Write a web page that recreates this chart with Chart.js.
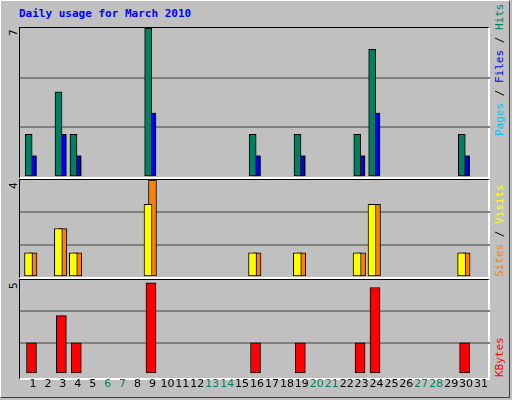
<!DOCTYPE html>
<html><head><meta charset="utf-8">
<script src="https://cdn.jsdelivr.net/npm/chart.js@4"></script>
<style>
body{margin:0;width:512px;height:400px;overflow:hidden;background:#c0c0c0;font-family:"DejaVu Sans Mono",monospace;}
#frame{position:absolute;left:0;top:0;width:510px;height:398px;border-top:1px solid #fff;border-left:1px solid #fff;border-right:1px solid #404040;border-bottom:1px solid #404040;box-sizing:border-box;}
.pan{position:absolute;left:19px;width:471px;box-sizing:border-box;border-top:1px solid #000;border-left:1px solid #000;border-right:2px solid #fff;border-bottom:2px solid #fff;}
canvas{position:absolute;left:0;}
.t{position:absolute;font-size:11px;}
.rot{position:absolute;transform-origin:0 0;transform:rotate(-90deg);white-space:nowrap;font-size:11px;}
</style></head><body>
<div id="frame"></div>
<div class="pan" style="top:27px;height:152px"></div>
<div class="pan" style="top:179px;height:100px"></div>
<div class="pan" style="top:279px;height:101px"></div>
<div class="t" style="left:19px;top:7px;color:#0000ff;font-weight:bold;">Daily usage for March 2010</div>
<div class="rot" style="left:7px;top:36px;">7</div>
<div class="rot" style="left:7px;top:189px;">4</div>
<div class="rot" style="left:7px;top:289px;">5</div>
<div class="rot" style="left:493px;top:136px;"><span style="color:#00c0ff">Pages</span> / <span style="color:#0000ff">Files</span> / <span style="color:#008060">Hits</span></div>
<div class="rot" style="left:493px;top:277px;"><span style="color:#ff8000">Sites</span> / <span style="color:#ffff00">Visits</span></div>
<div class="rot" style="left:493px;top:377px;"><span style="color:#ff0000">KBytes</span></div>
<canvas id="c1" style="top:28px;width:512px;height:149px"></canvas>
<canvas id="c2" style="top:180px;width:512px;height:97px"></canvas>
<canvas id="c3" style="top:280px;width:512px;height:115px"></canvas>
<script>
const days=[1,2,3,4,5,6,7,8,9,10,11,12,13,14,15,16,17,18,19,20,21,22,23,24,25,26,27,28,29,30,31];
const weekend=[6,7,13,14,20,21,27,28];
const hits  =[2,0,4,2,0,0,0,0,7,0,0,0,0,0,0,2,0,0,2,0,0,0,2,6,0,0,0,0,0,2,0];
const files =[1,0,2,1,0,0,0,0,3,0,0,0,0,0,0,1,0,0,1,0,0,0,1,3,0,0,0,0,0,1,0];
const pages =[1,0,2,1,0,0,0,0,3,0,0,0,0,0,0,1,0,0,1,0,0,0,1,3,0,0,0,0,0,1,0];
const visits=[1,0,2,1,0,0,0,0,3,0,0,0,0,0,0,1,0,0,1,0,0,0,1,3,0,0,0,0,0,1,0];
const sites =[1,0,2,1,0,0,0,0,4,0,0,0,0,0,0,1,0,0,1,0,0,0,1,3,0,0,0,0,0,1,0];
const kbytes=[1.65,0,3.1,1.65,0,0,0,0,4.85,0,0,0,0,0,0,1.65,0,0,1.65,0,0,0,1.65,4.6,0,0,0,0,0,1.65,0];
Chart.defaults.animation=false;
Chart.defaults.devicePixelRatio=1;
function ds(vals,off,w,color){
  return {data:days.map((d,i)=>({x:d+off,y:vals[i]})).filter(p=>p.y>0),backgroundColor:color,borderColor:'#000',borderWidth:1,barThickness:w,borderSkipped:false,grouped:false};
}
function make(id,sets,max,showX){
  new Chart(document.getElementById(id),{type:'bar',data:{datasets:sets},
    options:{responsive:false,layout:{padding:{left:20,right:22,top:0,bottom:0}},
      plugins:{legend:{display:false},tooltip:{enabled:false}},
      scales:{
        x:{type:'linear',min:0.13,max:31.6,offset:false,display:showX,grid:{display:false,drawTicks:false},border:{display:false},
          afterBuildTicks:s=>{s.ticks=days.map(v=>({value:v}));},
          ticks:{autoSkip:false,maxRotation:0,padding:4,font:{family:'DejaVu Sans',size:11},
            color:c=>weekend.includes(c.tick.value)?'#008060':'#000',callback:v=>String(v)}},
        y:{min:0,max:max,afterFit:s=>{s.width=0;},border:{display:false},
          afterBuildTicks:s=>{s.ticks=[0,max/3,2*max/3,max].map(v=>({value:v}));},
          ticks:{display:false},grid:{drawTicks:false,color:c=>(c.index==1||c.index==2)?'#808080':'rgba(0,0,0,0)',lineWidth:2}}
      }}});
}
make('c1',[ds(hits,-0.29,7,'#008060'),ds(files,-0.1,9,'#0000ff'),ds(pages,0.0,7,'#00c0ff')],7,false);
make('c2',[ds(visits,-0.3,8,'#ffff00'),ds(sites,0.0,8,'#ff8000')],4,false);
make('c3',[ds(kbytes,-0.1,10,'#ff0000')],5,true);
</script></body></html>
